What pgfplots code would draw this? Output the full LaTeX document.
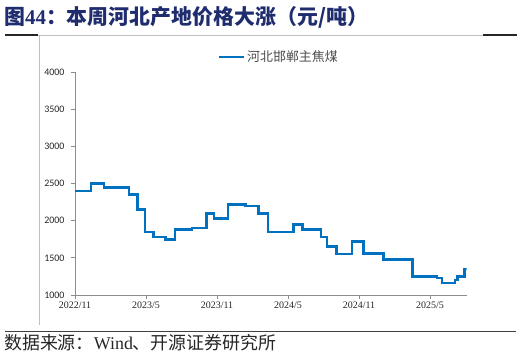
\documentclass[border=0pt]{standalone}
\usepackage{pgfplots}
\pgfplotsset{compat=1.18}
\usepackage{fontspec}
\setmainfont{Liberation Serif}
\newfontfamily\cjk{Noto Sans CJK SC}
\newfontfamily\carlito{Carlito}
\definecolor{navy}{HTML}{1F2C6E}
\definecolor{lineblue}{HTML}{0070C0}
\definecolor{axgray}{HTML}{8C8C8C}
\begin{document}
\begin{tikzpicture}[x=1bp,y=1bp]
\path[use as bounding box] (0,0) rectangle (522,357);
% title
\node[anchor=west,inner sep=0pt,text=navy] at (4,340) {\fontsize{21}{23}\selectfont\cjk\bfseries 图\textrm{\bfseries 44}：本周河北产地价格大涨（元/吨）};
% frame lines
\draw[color=black!85,line width=1.4bp] (5,322) -- (38,322);
\draw[color=black!85,line width=1.4bp] (483,322) -- (517,322);
\draw[color=black!25,line width=0.8bp] (38,322) -- (483,322);
\draw[color=black!25,line width=0.8bp] (39,322) -- (39,32);
\draw[color=black!75,line width=1bp] (5,26) -- (516,26);
% source
\node[anchor=west,inner sep=0pt,text=black!85] at (4,14) {\fontsize{18}{19}\selectfont\cjk 数据来源：\textrm{Wind}、开源证券研究所};
\begin{axis}[
  at={(75bp,62bp)}, anchor=south west,
  scale only axis, width=391.7bp, height=223bp,
  xmin=0, xmax=33.1, ymin=1000, ymax=4000,
  axis x line*=bottom, axis y line*=left,
  axis line style={axgray,line width=0.8bp,-},
  xtick={0,6,12,18,24,30},
  xticklabels={2022/11,2023/5,2023/11,2024/5,2024/11,2025/5},
  ytick={1000,1500,2000,2500,3000,3500,4000},
  scaled y ticks=false,
  /pgf/number format/1000 sep={},
  /pgf/number format/assume math mode=true,
  tick align=outside, major tick length=4bp,
  tick style={axgray,line width=0.8bp},
  xticklabel style={font=\fontsize{10}{11}\selectfont, text=black!85, yshift=1bp},
  yticklabel style={font=\carlito\fontsize{10}{11}\selectfont, text=black!85, xshift=-3bp},
  legend style={at={(0.52,1.067)},anchor=center,draw=none,fill=none,
    font=\cjk\fontsize{13}{14}\selectfont, text=black!70, inner sep=0pt},
  legend image code/.code={\draw[#1,line width=2.6bp] (0bp,0bp) -- (25bp,0bp);},
]
\addplot[const plot, color=lineblue, line width=2.6bp] coordinates {
(0,2400) (1.35,2500) (2.45,2450) (4.56,2350) (5.3,2150) (5.9,1850)
(6.65,1780) (7.66,1750) (8.45,1880) (9.9,1900) (11.1,2100) (11.75,2030)
(12.93,2220) (14.4,2200) (15.5,2100) (16.3,1850) (18.45,1950) (19.2,1880)
(20.8,1780) (21.3,1650) (22.1,1550) (23.4,1720) (24.4,1560) (26.06,1480)
(28.5,1250) (30.6,1230) (31.0,1160) (32.1,1200) (32.3,1250) (32.9,1350)
(33.1,1350)
};
\addlegendentry{河北邯郸主焦煤}
\end{axis}
\end{tikzpicture}
\end{document}
